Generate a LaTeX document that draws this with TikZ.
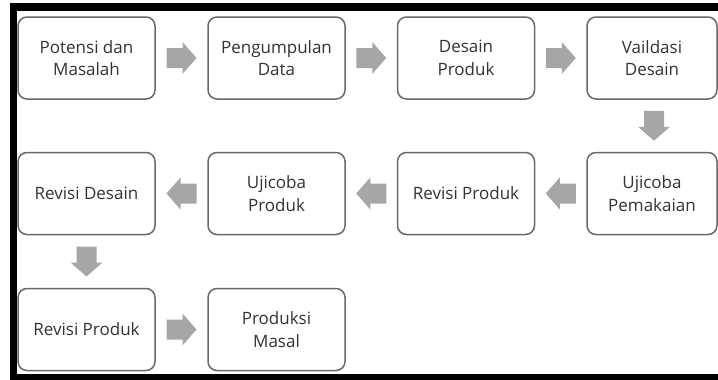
\documentclass[tikz,border=0pt]{standalone}
\usepackage{fontspec}
\setmainfont{Open Sans}
\usetikzlibrary{calc}
\definecolor{arrowgray}{RGB}{166,166,166}
\definecolor{boxgray}{RGB}{105,105,105}
\definecolor{txtgray}{RGB}{50,50,50}
\tikzset{
  stepbox/.style={draw=boxgray, line width=1.5pt, rounded corners=9pt,
    minimum width=137pt, minimum height=82pt, inner sep=0pt, align=center,
    text=txtgray, font=\fontsize{17}{22.5}\selectfont},
  lastcol/.style={minimum width=130pt},
  blkarrow/.pic={\fill[arrowgray] (-15,-10) -- (1,-10) -- (1,-16) -- (15,0) -- (1,16) -- (1,10) -- (-15,10) -- cycle;}
}
\begin{document}
\begin{tikzpicture}[x=1pt,y=1pt]
\useasboundingbox (0,0) rectangle (718,-380);
% frame
\fill[black] (10,-3.3) rectangle (718,-10.7);
\fill[black] (10,-3.3) rectangle (17.3,-380);
\fill[black] (10,-373.5) rectangle (718,-380);
% row 1
\node[stepbox] (a1) at (86.5,-58) {Potensi dan\\Masalah};
\node[stepbox] (a2) at (276.5,-58) {Pengumpulan\\Data};
\node[stepbox] (a3) at (466,-58) {Desain\\Produk};
\node[stepbox,lastcol] (a4) at (652,-58) {Vaildasi\\Desain};
% row 2
\node[stepbox] (b1) at (86.5,-193.5) {Revisi Desain};
\node[stepbox] (b2) at (276.5,-193.5) {Ujicoba\\Produk};
\node[stepbox] (b3) at (466,-193.5) {Revisi Produk};
\node[stepbox,lastcol] (b4) at (652,-193.5) {Ujicoba\\Pemakaian};
% row 3
\node[stepbox] (c1) at (86.5,-329.5) {Revisi Produk};
\node[stepbox] (c2) at (276.5,-329.5) {Produksi\\Masal};
% arrows
\path ($(a1.east)!0.5!(a2.west)$) pic {blkarrow};
\path ($(a2.east)!0.5!(a3.west)$) pic {blkarrow};
\path ($(a3.east)!0.5!(a4.west)$) pic {blkarrow};
\path ($(a4.south)!0.5!(b4.north)+(2,0)$) pic[rotate=-90] {blkarrow};
\path ($(b4.west)!0.5!(b3.east)$) pic[rotate=180] {blkarrow};
\path ($(b3.west)!0.5!(b2.east)$) pic[rotate=180] {blkarrow};
\path ($(b2.west)!0.5!(b1.east)$) pic[rotate=180] {blkarrow};
\path ($(b1.south)!0.5!(c1.north)$) pic[rotate=-90] {blkarrow};
\path ($(c1.east)!0.5!(c2.west)$) pic {blkarrow};
\end{tikzpicture}
\end{document}
